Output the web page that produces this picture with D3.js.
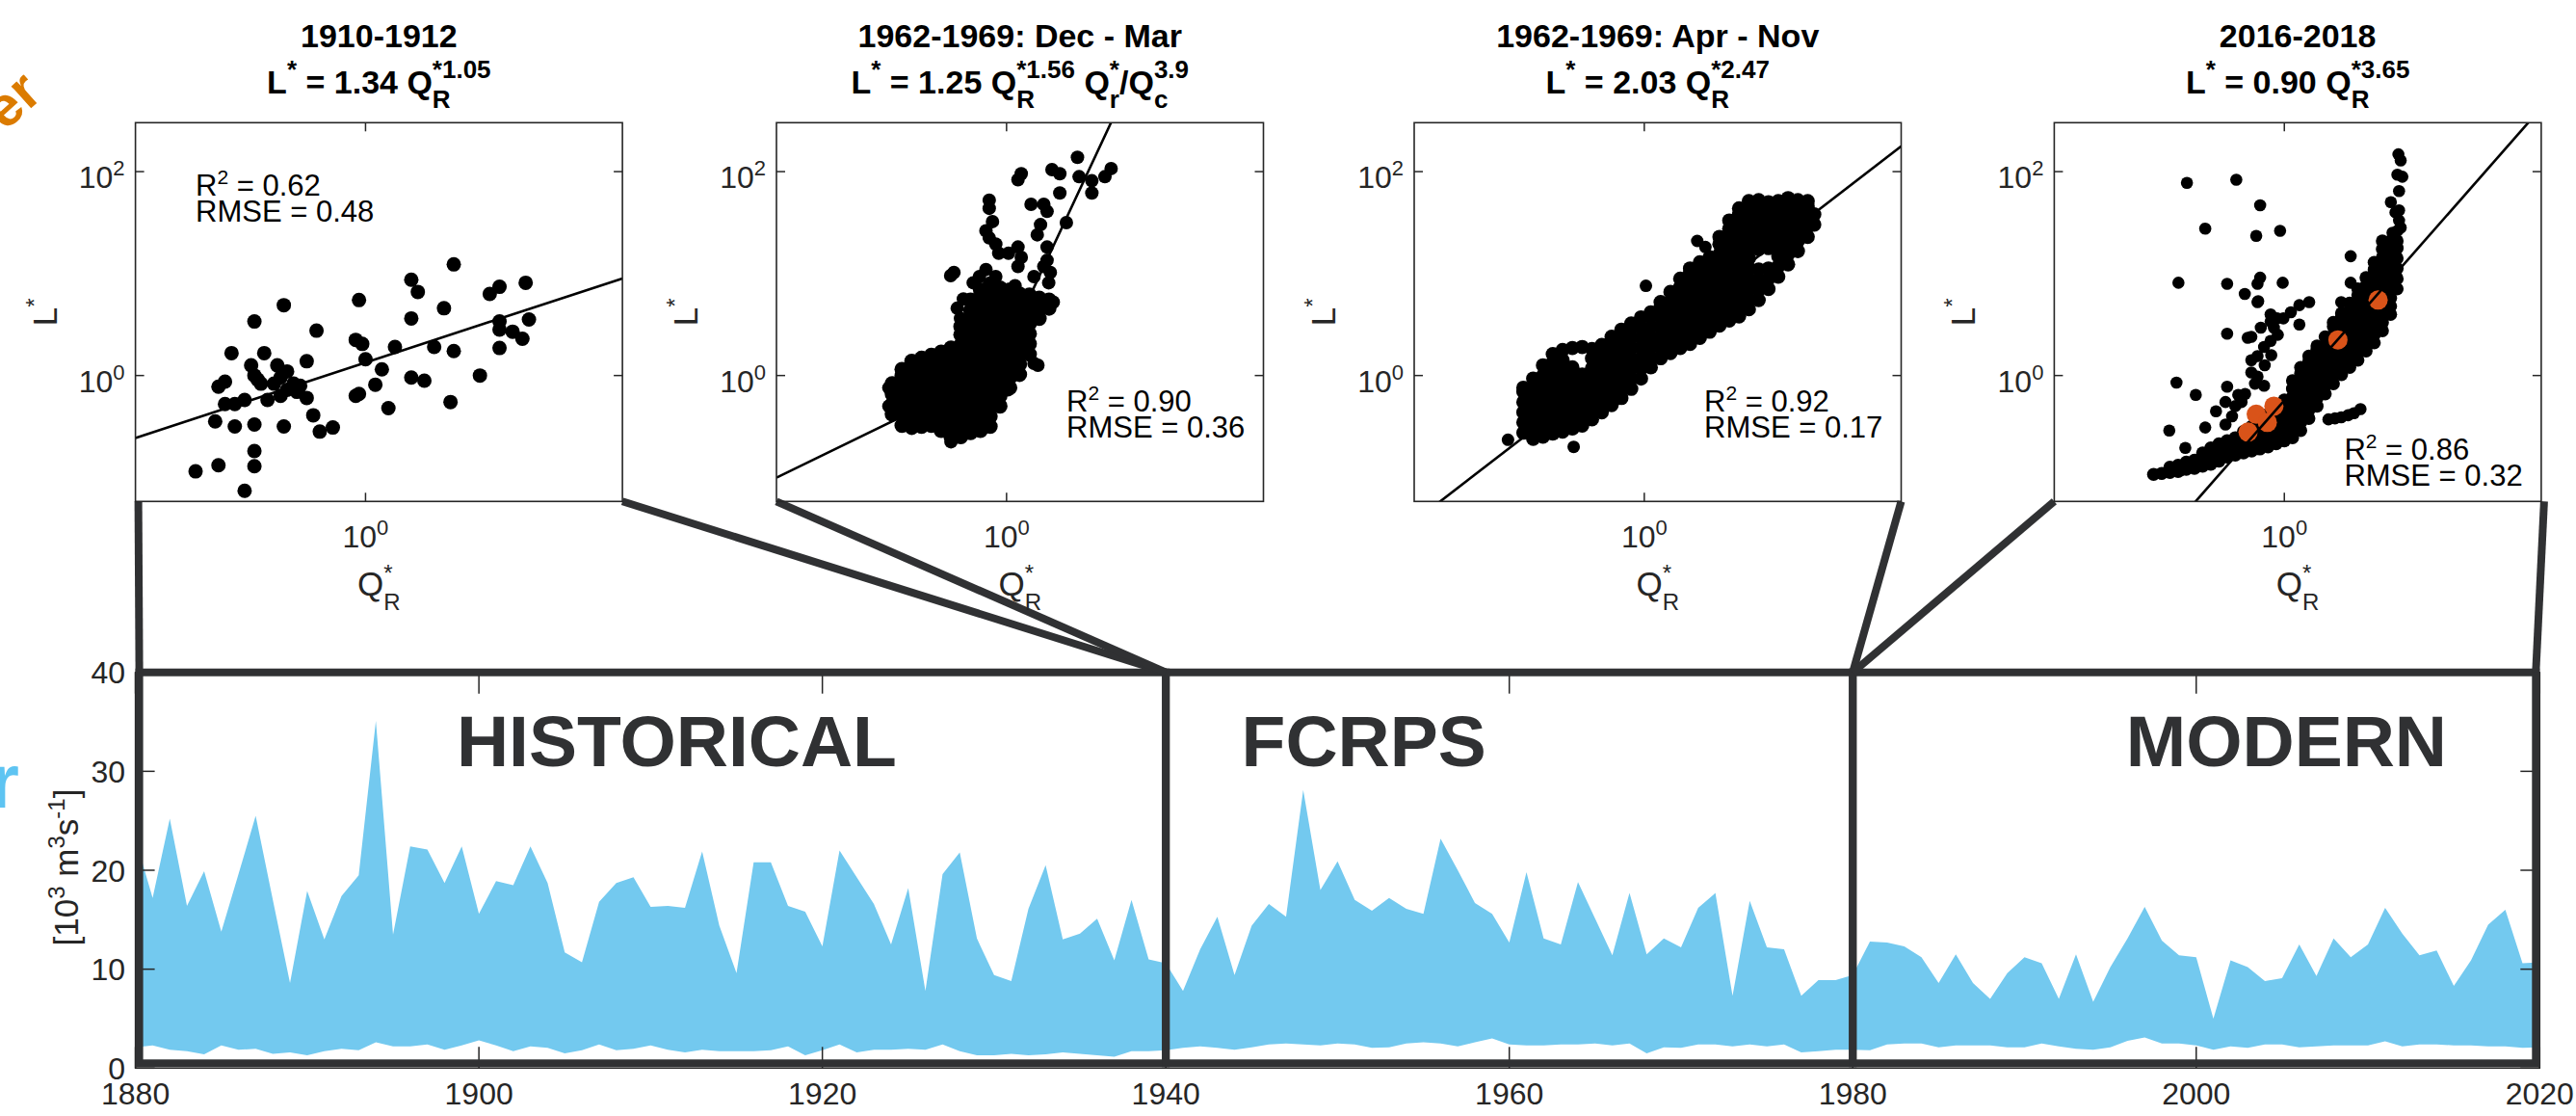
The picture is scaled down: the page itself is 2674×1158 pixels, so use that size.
<!DOCTYPE html>
<html>
<head>
<meta charset="utf-8">
<script src="https://cdn.jsdelivr.net/npm/d3@7"></script>
<style>
body { margin: 0; background: #fff; }
svg { display: block; font-family: "Liberation Sans", Arial, Helvetica, sans-serif; }
</style>
</head>
<body>
<script>
// ---------- bottom chart: river flow envelope, 10^3 m3/s ----------
var years = d3.range(1880, 2021);
var flowMax = [
  23.2, 17.2, 25.2, 16.4, 19.9, 13.8, 19.6, 25.5, 17.0, 8.6,    // 1880s
  17.9, 13.0, 17.4, 19.5, 35.1, 13.5, 22.4, 22.1, 18.7, 22.4,   // 1890s
  15.6, 18.9, 18.5, 22.4, 18.7, 11.7, 10.7, 16.8, 18.7, 19.3,   // 1900s
  16.3, 16.4, 16.2, 21.9, 14.4, 9.6, 20.8, 20.8, 16.4, 15.8,    // 1910s
  12.3, 22.0, 19.3, 16.6, 12.5, 18.2, 7.8, 19.6, 21.8, 13.1,    // 1920s
  9.4, 8.8, 16.1, 20.5, 13.0, 13.6, 15.1, 10.9, 17.0, 11.0,     // 1930s
  10.6, 7.8, 12.0, 15.3, 9.4, 14.4, 16.6, 15.3, 28.1, 18.0,     // 1940s
  20.9, 17.0, 15.9, 17.2, 16.1, 15.6, 23.2, 20.0, 16.7, 15.6,   // 1950s
  12.7, 19.8, 13.1, 12.5, 18.8, 15.1, 11.4, 17.7, 11.5, 13.1,   // 1960s
  12.2, 16.2, 17.7, 7.3, 16.9, 12.2, 12.0, 7.3, 8.9, 8.9,       // 1970s
  9.4, 12.8, 12.7, 12.3, 11.2, 8.6, 11.5, 8.6, 7.0, 9.6,        // 1980s
  11.2, 10.6, 7.0, 11.5, 6.7, 10.2, 13.1, 16.3, 12.9, 11.4,     // 1990s
  11.2, 5.0, 10.9, 10.2, 8.8, 9.1, 12.5, 9.3, 13.1, 11.2,       // 2000s
  12.5, 16.2, 13.6, 11.4, 11.9, 8.3, 10.9, 14.5, 16.0, 10.6,    // 2010s
  10.7
];
var flowMin = [
  2.1, 2.3, 1.85, 1.7, 1.4, 2.3, 1.85, 1.95, 1.45, 1.6,
  1.3, 1.7, 1.95, 1.8, 2.6, 2.2, 2.2, 2.4, 1.85, 2.3,
  2.8, 2.3, 1.7, 2.2, 2.05, 1.5, 1.8, 2.4, 1.8, 1.95,
  2.3, 1.85, 1.6, 1.85, 1.7, 1.7, 1.7, 1.8, 2.2, 1.3,
  1.8, 2.4, 1.6, 1.85, 1.85, 1.95, 1.85, 2.4, 1.7, 1.3,
  1.3, 1.45, 1.3, 1.4, 1.6, 1.45, 1.3, 1.15, 1.7, 1.7,
  1.8, 2.05, 2.2, 2.05, 1.85, 2.1, 2.4, 2.5, 2.4, 2.3,
  2.5, 2.4, 2.05, 2.1, 2.5, 2.6, 2.5, 2.2, 2.6, 3.0,
  2.4, 2.3, 2.3, 2.4, 2.4, 2.5, 2.3, 2.5, 1.5, 2.1,
  2.05, 2.4, 2.4, 2.2, 2.4, 2.2, 2.4, 1.6, 1.7, 1.85,
  1.85, 1.8, 2.4, 2.5, 2.5, 2.1, 2.3, 2.3, 2.3, 2.1,
  2.1, 2.5, 2.2, 1.95, 1.85, 2.1, 2.75, 3.1, 2.5, 2.5,
  2.3, 1.85, 2.2, 2.05, 2.4, 2.4, 2.1, 2.2, 2.3, 2.3,
  2.3, 2.7, 2.2, 2.4, 2.4, 2.3, 2.3, 2.2, 2.2, 2.05,
  2.1
];
var yearTicks = [1880, 1900, 1920, 1940, 1960, 1980, 2000, 2020];
var flowTicks = [0, 10, 20, 30, 40];
var eras = [
  { start: 1880, end: 1940, name: 'HISTORICAL', labelYear: 1898.7 },
  { start: 1940, end: 1980, name: 'FCRPS', labelYear: 1944.4 },
  { start: 1980, end: 2020, name: 'MODERN', labelYear: 1995.9 }
];

// ---------- scatter panels (log10 Q*, log10 L*) ----------
var titles = ['1910-1912', '1962-1969: Dec - Mar', '1962-1969: Apr - Nov', '2016-2018'];
var stats = [['0.62', '0.48'], ['0.90', '0.36'], ['0.92', '0.17'], ['0.86', '0.32']];

var p1Points = [
  [-0.52,-0.94],[-0.45,-0.88],[-0.37,-1.13],[-0.34,-0.89],[-0.34,-0.74],[-0.46,-0.45],[-0.40,-0.50],
  [-0.34,-0.48],[-0.25,-0.50],[-0.16,-0.39],[-0.14,-0.55],[-0.10,-0.51],[-0.43,-0.28],[-0.40,-0.28],
  [-0.37,-0.24],[-0.45,-0.11],[-0.43,-0.06],[-0.41,0.22],[-0.34,0.53],[-0.25,0.69],[-0.15,0.44],
  [-0.31,0.22],[-0.35,0.10],[-0.34,0.00],[-0.32,-0.08],[-0.30,-0.24],[-0.27,0.10],[-0.26,-0.02],
  [-0.24,0.04],[-0.22,-0.08],[-0.21,-0.16],[-0.18,-0.22],[-0.18,0.14],[-0.26,-0.20],[-0.28,-0.08],
  [-0.24,-0.14],[-0.02,0.74],[-0.03,0.35],[-0.01,0.31],[0.00,0.16],[0.05,0.06],[0.03,-0.09],
  [-0.03,-0.20],[-0.02,-0.18],[0.07,-0.32],[0.09,0.28],[0.14,0.94],[0.16,0.82],[0.14,0.56],
  [0.14,-0.02],[0.18,-0.05],[0.21,0.28],[0.24,0.66],[0.27,1.09],[0.27,0.24],[0.26,-0.26],
  [0.35,0.00],[0.38,0.80],[0.41,0.87],[0.49,0.91],[0.41,0.53],[0.41,0.45],[0.45,0.43],
  [0.48,0.36],[0.50,0.55],[0.41,0.27],[-0.20,-0.10],[-0.33,-0.04]
];

// dense clouds: [log Q*, log L* values seen in that column ...]
var p2Cloud = [
  [-0.35, -0.38, -0.28, -0.18, -0.08],
  [-0.32, -0.49, -0.39, -0.29, -0.19, -0.09, 0.00, 0.06],
  [-0.29, -0.51, -0.41, -0.31, -0.21, -0.11, -0.01, 0.09, 0.14],
  [-0.26, -0.50, -0.40, -0.30, -0.20, -0.10, 0.00, 0.10, 0.17],
  [-0.23, -0.49, -0.39, -0.29, -0.19, -0.09, 0.01, 0.11, 0.20],
  [-0.20, -0.54, -0.44, -0.34, -0.24, -0.14, -0.04, 0.06, 0.16, 0.23],
  [-0.17, -0.60, -0.50, -0.40, -0.30, -0.20, -0.10, 0.00, 0.10, 0.20, 0.27],
  [-0.14, -0.60, -0.50, -0.40, -0.30, -0.20, -0.10, 0.00, 0.10, 0.20, 0.30, 0.40, 0.48],
  [-0.11, -0.56, -0.46, -0.36, -0.26, -0.16, -0.06, 0.04, 0.14, 0.24, 0.34, 0.44, 0.54, 0.64, 0.74],
  [-0.08, -0.54, -0.44, -0.34, -0.24, -0.14, -0.04, 0.06, 0.16, 0.26, 0.36, 0.46, 0.56, 0.66, 0.76, 0.84],
  [-0.05, -0.50, -0.40, -0.30, -0.20, -0.10, 0.00, 0.10, 0.20, 0.30, 0.40, 0.50, 0.60, 0.70, 0.80, 0.90],
  [-0.02, -0.30, -0.20, -0.10, 0.00, 0.10, 0.20, 0.30, 0.40, 0.50, 0.60, 0.70, 0.80, 0.86],
  [0.01, -0.12, -0.02, 0.08, 0.18, 0.28, 0.38, 0.48, 0.58, 0.68, 0.78, 0.84],
  [0.04, 0.01, 0.11, 0.21, 0.31, 0.41, 0.51, 0.61, 0.71, 0.80],
  [0.07, 0.21, 0.31, 0.41, 0.51, 0.61, 0.71, 0.79],
  [0.10, 0.56, 0.66, 0.76],
  [0.13, 0.66, 0.74]
];
var p2Points = [
  [0.217,2.14],[0.045,1.98],[0.035,1.92],[0.139,2.02],[0.163,1.98],[0.222,1.95],[0.261,1.91],
  [0.301,1.95],[0.320,2.03],[0.163,1.79],[0.261,1.79],[-0.053,1.72],[-0.053,1.64],[0.075,1.68],
  [0.114,1.68],[0.124,1.61],[-0.043,1.51],[-0.063,1.42],[-0.053,1.35],[-0.033,1.29],[-0.024,1.20],
  [0.104,1.48],[0.094,1.38],[0.183,1.50],[0.006,1.20],[0.035,1.26],[0.045,1.16],[0.035,1.07],
  [0.124,1.26],[0.124,1.13],[0.114,1.07],[0.134,1.01],[0.084,0.97],[-0.161,1.01],[-0.171,0.98],
  [-0.063,1.04],[-0.083,0.97],[-0.033,0.97],[0.129,0.91],[-0.102,0.91],[-0.132,0.75],[-0.151,0.66],
  [-0.141,0.56],[-0.014,0.85],[0.026,0.88],[0.143,0.72],[0.084,0.12],[0.004,-0.14],[0.096,0.10],
  [-0.36,-0.30],[-0.36,-0.12],[-0.17,-0.65]
];

var p3Cloud = [
  [-0.37, -0.56, -0.46, -0.36, -0.26, -0.16, -0.12],
  [-0.34, -0.62, -0.52, -0.42, -0.32, -0.22, -0.12, -0.03],
  [-0.31, -0.60, -0.50, -0.40, -0.30, -0.20, -0.10, 0.00, 0.10],
  [-0.28, -0.57, -0.47, -0.37, -0.27, -0.17, -0.07, 0.03, 0.13, 0.21],
  [-0.25, -0.55, -0.45, -0.35, -0.25, -0.15, -0.05, 0.05, 0.15, 0.25],
  [-0.22, -0.52, -0.42, -0.32, -0.22, -0.12, -0.02, 0.08, 0.27],
  [-0.19, -0.49, -0.39, -0.29, -0.19, -0.09, 0.01, 0.28],
  [-0.16, -0.43, -0.33, -0.23, -0.13, -0.03, 0.07, 0.17, 0.26],
  [-0.13, -0.36, -0.26, -0.16, -0.06, 0.04, 0.14, 0.24, 0.30],
  [-0.10, -0.29, -0.19, -0.09, 0.01, 0.11, 0.21, 0.31, 0.38],
  [-0.07, -0.22, -0.12, -0.02, 0.08, 0.18, 0.28, 0.38, 0.45],
  [-0.04, -0.13, -0.03, 0.07, 0.17, 0.27, 0.37, 0.47, 0.51],
  [-0.01, -0.03, 0.07, 0.17, 0.27, 0.37, 0.47, 0.57],
  [0.02, 0.08, 0.18, 0.28, 0.38, 0.48, 0.58, 0.62],
  [0.05, 0.17, 0.27, 0.37, 0.47, 0.57, 0.67, 0.72],
  [0.08, 0.22, 0.32, 0.42, 0.52, 0.62, 0.72, 0.82],
  [0.11, 0.27, 0.37, 0.47, 0.57, 0.67, 0.77, 0.87, 0.95],
  [0.14, 0.31, 0.41, 0.51, 0.61, 0.71, 0.81, 0.91, 1.01, 1.05],
  [0.17, 0.37, 0.47, 0.57, 0.67, 0.77, 0.87, 0.97, 1.07, 1.11],
  [0.20, 0.43, 0.53, 0.63, 0.73, 0.83, 0.93, 1.03, 1.13, 1.16],
  [0.23, 0.49, 0.59, 0.69, 0.79, 0.89, 0.99, 1.09, 1.19, 1.29, 1.36],
  [0.26, 0.54, 0.64, 0.74, 0.84, 0.94, 1.04, 1.14, 1.24, 1.34, 1.44, 1.52],
  [0.29, 0.58, 0.68, 0.78, 0.88, 0.98, 1.08, 1.18, 1.28, 1.38, 1.48, 1.58, 1.64],
  [0.32, 0.65, 0.75, 0.85, 0.95, 1.05, 1.15, 1.25, 1.35, 1.45, 1.55, 1.65, 1.71],
  [0.35, 0.74, 0.84, 0.94, 1.04, 1.24, 1.34, 1.44, 1.54, 1.64, 1.72],
  [0.38, 0.85, 0.95, 1.05, 1.25, 1.35, 1.45, 1.55, 1.65, 1.70],
  [0.41, 0.97, 1.07, 1.17, 1.27, 1.37, 1.47, 1.57, 1.67, 1.71],
  [0.44, 1.09, 1.19, 1.29, 1.39, 1.49, 1.59, 1.69, 1.74],
  [0.47, 1.22, 1.32, 1.42, 1.52, 1.62, 1.72],
  [0.50, 1.36, 1.46, 1.56, 1.66, 1.71],
  [0.52, 1.48, 1.58]
];
var p3Points = [[0.005,0.88],[-0.216,-0.70],[-0.417,-0.63],[0.162,1.32],[0.187,1.26]];

var p4Cloud = [
  [-0.400, -0.97],
  [-0.375, -0.96],
  [-0.350, -0.95, -0.90],
  [-0.325, -0.94, -0.88],
  [-0.300, -0.92, -0.85],
  [-0.275, -0.91, -0.83],
  [-0.250, -0.89, -0.81, -0.76],
  [-0.225, -0.87, -0.79, -0.71],
  [-0.200, -0.84, -0.76, -0.67],
  [-0.175, -0.80, -0.72, -0.64],
  [-0.150, -0.78, -0.70, -0.61],
  [-0.125, -0.76, -0.68, -0.60, -0.55],
  [-0.100, -0.74, -0.66, -0.58, -0.50],
  [-0.075, -0.72, -0.64, -0.56, -0.48, -0.43],
  [-0.050, -0.70, -0.62, -0.54, -0.46, -0.38],
  [-0.025, -0.67, -0.59, -0.51, -0.43, -0.35, -0.31],
  [0.000, -0.64, -0.56, -0.48, -0.40, -0.32, -0.24],
  [0.025, -0.61, -0.53, -0.45, -0.37, -0.29, -0.21, -0.13, -0.05],
  [0.050, -0.54, -0.46, -0.38, -0.30, -0.22, -0.14, -0.06, 0.02, 0.08],
  [0.075, -0.42, -0.34, -0.26, -0.18, -0.10, -0.02, 0.06, 0.14, 0.19],
  [0.100, -0.30, -0.22, -0.14, -0.06, 0.02, 0.10, 0.18, 0.26, 0.29],
  [0.125, -0.18, -0.10, -0.02, 0.06, 0.14, 0.22, 0.30, 0.38],
  [0.150, -0.08, 0.00, 0.08, 0.16, 0.24, 0.32, 0.40, 0.48, 0.52],
  [0.175, 0.01, 0.09, 0.17, 0.25, 0.33, 0.41, 0.49, 0.57, 0.61],
  [0.200, 0.08, 0.16, 0.24, 0.32, 0.40, 0.48, 0.56, 0.64, 0.71],
  [0.225, 0.15, 0.23, 0.31, 0.39, 0.47, 0.55, 0.63, 0.71, 0.79, 0.85],
  [0.250, 0.24, 0.32, 0.40, 0.48, 0.56, 0.64, 0.72, 0.80, 0.88, 0.96],
  [0.275, 0.32, 0.40, 0.48, 0.56, 0.64, 0.72, 0.80, 0.88, 0.96, 1.04, 1.11],
  [0.300, 0.44, 0.52, 0.60, 0.68, 0.76, 0.84, 0.92, 1.00, 1.08, 1.16, 1.24, 1.32],
  [0.325, 0.60, 0.68, 0.76, 0.84, 0.92, 1.00, 1.08, 1.16, 1.24, 1.32],
  [0.345, 0.85, 0.95, 1.05, 1.15, 1.25, 1.32]
];
var p4Points = [
  [0.135,-0.43],[0.155,-0.42],[0.174,-0.41],[0.195,-0.39],[0.213,-0.37],[0.233,-0.33],
  [-0.101,0.03],[-0.082,0.19],[-0.062,0.28],[-0.042,0.34],[-0.032,0.47],[-0.022,0.56],[-0.003,0.56],
  [-0.101,0.38],[-0.072,0.47],[-0.101,0.15],[-0.082,-0.01],[-0.062,-0.10],[-0.131,-0.26],[-0.180,-0.26],
  [-0.209,-0.35],[-0.180,-0.48],[-0.042,0.60],[-0.042,0.53],[0.046,0.69],[0.076,0.72],[0.046,0.50],
  [0.174,0.72],[-0.09,-0.08],[-0.12,-0.18],[-0.15,-0.30],[-0.16,-0.40],[-0.06,0.10],[-0.04,0.20],
  [-0.02,0.40],[0.02,0.62],[-0.112,0.37],[-0.08,0.73],
  [0.349,2.17],[0.356,2.11],[0.346,1.97],[0.361,1.95],[0.351,1.81],[0.326,1.70],[0.351,1.62],
  [0.346,1.42],[0.356,1.45],[0.351,1.52],[0.331,1.40],[0.34,1.60],
  [-0.298,1.89],[-0.147,1.92],[-0.074,1.67],[-0.242,1.44],[-0.086,1.37],[-0.013,1.42],[-0.324,0.91],
  [-0.175,0.90],[-0.121,0.80],[-0.082,0.72],[-0.074,0.96],[-0.082,0.90],[-0.005,0.91],[0.203,1.17],
  [0.203,0.91],[-0.175,0.41],[-0.330,-0.07],[-0.271,-0.19],[-0.175,-0.11],[-0.141,-0.19],
  [-0.352,-0.54],[-0.303,-0.71],[-0.242,-0.51],[-0.376,-0.96],[-0.317,-0.93]
];
var p4Highlight = [[0.287,0.74],[0.164,0.35],[-0.032,-0.30],[-0.086,-0.38],[-0.052,-0.46],[-0.111,-0.555]];

// fitted lines as drawn: log L* = log10(a) + b log Q*  (panel 2 bends at kink)
var fits = [
  { a: 1.34, b: 1.05 },
  { a: 1.25, b: 1.56, kink: -0.036, b2: 6.86 },
  { a: 2.03, b: 2.47 },
  { a: 0.57, b: 3.65 }
];
var shownCoef = [1.34, 1.25, 2.03, 0.90];

// ---------- layout ----------
var W = 2674, H = 1158;
var INK = '#262626', FRAME = '#303133', BLUE = '#73c9ef', ORANGE = '#d95319';
var panelX = [140.6, 806, 1468, 2132.4], PW = 505.5, PT = 127.3, PB = 520.3;
var dotR = [7.5, 7, 6.5, 6.3];      // single markers
var cloudR = [0, 7.8, 7.4, 6.8];    // markers inside the dense clouds

var svg = d3.select('body').append('svg').attr('width', W).attr('height', H);

// text with super/subscripts, laid out piece by piece
function mathText(parent, x, y, parts, o) {
  var g = parent.append('g');
  var inner = g.append('g');
  var cx = 0;
  function piece(str, px, py, size) {
    return inner.append('text').attr('x', px).attr('y', py)
      .attr('font-size', size).attr('font-weight', o.weight || 'normal')
      .attr('fill', o.fill || '#000').attr('xml:space', 'preserve')
      .style('white-space', 'pre').text(str);
  }
  parts.forEach(function (p) {
    if (p.t) cx += piece(p.t, cx, 0, o.size).node().getComputedTextLength();
    var w = 0;
    if (p.sup) w = Math.max(w, piece(p.sup, cx, -o.up, o.small).node().getComputedTextLength());
    if (p.sub) w = Math.max(w, piece(p.sub, cx, o.down, o.small).node().getComputedTextLength());
    cx += w;
  });
  var dx = o.anchor === 'middle' ? -cx / 2 : (o.anchor === 'end' ? -cx : 0);
  inner.attr('transform', 'translate(' + dx + ',0)');
  g.attr('transform', 'translate(' + x + ',' + y + ')' + (o.rotate ? ' rotate(' + o.rotate + ')' : ''));
  return g;
}

// ---------- bottom chart ----------
var xs = d3.scaleLinear().domain([1880, 2020]).range([140.6, 2636.3]);
var ys = d3.scaleLinear().domain([0, 40]).range([1108.3, 697.7]);
var flow = years.map(function (yr, i) { return { year: yr, lo: flowMin[i], hi: flowMax[i] }; });

svg.append('clipPath').attr('id', 'flowclip').append('rect')
  .attr('x', xs(1880)).attr('y', ys(40)).attr('width', xs(2020) - xs(1880)).attr('height', ys(0) - ys(40));

svg.append('path').datum(flow).attr('clip-path', 'url(#flowclip)')
  .attr('fill', BLUE)
  .attr('d', d3.area().x(function (d) { return xs(d.year); })
    .y0(function (d) { return ys(d.lo); }).y1(function (d) { return ys(d.hi); }));

var axisG = svg.append('g').attr('stroke', INK).attr('stroke-width', 1.5);
axisG.append('rect').attr('x', xs(1880)).attr('y', ys(40))
  .attr('width', xs(2020) - xs(1880)).attr('height', ys(0) - ys(40)).attr('fill', 'none');
yearTicks.forEach(function (t) {
  axisG.append('line').attr('x1', xs(t)).attr('x2', xs(t)).attr('y1', ys(40)).attr('y2', ys(40) + 22);
  axisG.append('line').attr('x1', xs(t)).attr('x2', xs(t)).attr('y1', ys(0)).attr('y2', ys(0) - 22);
});
flowTicks.forEach(function (t) {
  axisG.append('line').attr('x1', xs(1880)).attr('x2', xs(1880) + 20).attr('y1', ys(t)).attr('y2', ys(t));
  axisG.append('line').attr('x1', xs(2020)).attr('x2', xs(2020) - 20).attr('y1', ys(t)).attr('y2', ys(t));
});

svg.append('g').selectAll('text').data(yearTicks).enter().append('text')
  .attr('x', function (d) { return xs(d); }).attr('y', 1146)
  .attr('text-anchor', 'middle').attr('font-size', 32).attr('fill', INK)
  .text(function (d) { return d; });
svg.append('g').selectAll('text').data(flowTicks).enter().append('text')
  .attr('x', 130).attr('y', function (d) { return ys(d) + 11.5; })
  .attr('text-anchor', 'end').attr('font-size', 32).attr('fill', INK)
  .text(function (d) { return d; });

mathText(svg, 81, 900, [{ t: '[10', sup: '3' }, { t: ' m', sup: '3' }, { t: 's', sup: '-1' }, { t: ']' }],
  { size: 35, small: 24, up: 14, anchor: 'middle', rotate: -90, fill: INK });

// era boxes
var boxG = svg.append('g').attr('fill', 'none').attr('stroke', FRAME).attr('stroke-width', 8);
eras.forEach(function (e, i) {
  var x0 = xs(e.start) + (i === 0 ? 4 : 0);
  var x1 = xs(e.end) - (i === eras.length - 1 ? 4 : 0);
  boxG.append('rect').attr('x', x0).attr('y', ys(40)).attr('width', x1 - x0).attr('height', ys(0) - 5 - ys(40));
});
svg.append('g').selectAll('text').data(eras).enter().append('text')
  .attr('x', function (d) { return xs(d.labelYear); }).attr('y', 795)
  .attr('font-size', 75).attr('font-weight', 'bold').attr('fill', FRAME)
  .text(function (d) { return d.name; });

// zoom lines from panels down to the eras
var links = [
  [panelX[0] + 3, 1880, 4], [panelX[0] + PW, 1940, 0], [panelX[1], 1940, 0],
  [panelX[2] + PW, 1980, 0], [panelX[3], 1980, 0], [panelX[3] + PW + 3, 2020, -4]
];
links.forEach(function (l) {
  boxG.append('line').attr('x1', l[0]).attr('y1', PB).attr('x2', xs(l[1]) + l[2]).attr('y2', ys(40));
});

// ---------- scatter panels ----------
var qDom = [Math.pow(10, -0.704), Math.pow(10, 0.786)];
var lDom = [Math.pow(10, -1.235), Math.pow(10, 2.48)];
var clouds = [null, p2Cloud, p3Cloud, p4Cloud];
var singles = [p1Points, p2Points, p3Points, p4Points];

panelX.forEach(function (left, k) {
  var g = svg.append('g');
  var xq = d3.scaleLog().domain(qDom).range([left, left + PW]);
  var yl = d3.scaleLog().domain(lDom).range([PB, PT]);
  var cxm = left + PW / 2;

  var pts = singles[k].map(function (d) { return [d[0], d[1], dotR[k]]; });
  if (clouds[k]) clouds[k].forEach(function (col) {
    col.slice(1).forEach(function (v) { pts.push([col[0], v, cloudR[k]]); });
  });

  var cid = 'pclip' + k;
  g.append('clipPath').attr('id', cid).append('rect')
    .attr('x', left).attr('y', PT).attr('width', PW).attr('height', PB - PT);
  var plot = g.append('g').attr('clip-path', 'url(#' + cid + ')');

  plot.selectAll('circle.pt').data(pts).enter().append('circle').attr('class', 'pt')
    .attr('cx', function (d) { return xq(Math.pow(10, d[0])); })
    .attr('cy', function (d) { return yl(Math.pow(10, d[1])); })
    .attr('r', function (d) { return d[2]; }).attr('fill', '#000');

  if (k === 3) {
    plot.selectAll('circle.hl').data(p4Highlight).enter().append('circle').attr('class', 'hl')
      .attr('cx', function (d) { return xq(Math.pow(10, d[0])); })
      .attr('cy', function (d) { return yl(Math.pow(10, d[1])); })
      .attr('r', 10).attr('fill', ORANGE);
  }

  var f = fits[k];
  var fitLog = function (x) {
    var v = Math.log10(f.a) + f.b * Math.min(x, f.kink === undefined ? x : f.kink);
    if (f.kink !== undefined && x > f.kink) v += f.b2 * (x - f.kink);
    return v;
  };
  var xsamp = [-0.704, 0.786];
  if (f.kink !== undefined) xsamp = [-0.704, f.kink, 0.786];
  plot.append('path').datum(xsamp).attr('fill', 'none').attr('stroke', '#000').attr('stroke-width', 2.6)
    .attr('d', d3.line().x(function (x) { return xq(Math.pow(10, x)); })
      .y(function (x) { return yl(Math.pow(10, fitLog(x))); }));

  // frame and ticks
  g.append('rect').attr('x', left).attr('y', PT).attr('width', PW).attr('height', PB - PT)
    .attr('fill', 'none').attr('stroke', INK).attr('stroke-width', 1.6);
  var tk = g.append('g').attr('stroke', INK).attr('stroke-width', 1.5);
  tk.append('line').attr('x1', xq(1)).attr('x2', xq(1)).attr('y1', PB).attr('y2', PB - 9);
  tk.append('line').attr('x1', xq(1)).attr('x2', xq(1)).attr('y1', PT).attr('y2', PT + 9);
  [1, 100].forEach(function (v) {
    tk.append('line').attr('x1', left).attr('x2', left + 9).attr('y1', yl(v)).attr('y2', yl(v));
    tk.append('line').attr('x1', left + PW).attr('x2', left + PW - 9).attr('y1', yl(v)).attr('y2', yl(v));
    mathText(g, left - 11, yl(v) + 17, [{ t: '10', sup: String(Math.round(Math.log10(v))) }],
      { size: 32, small: 22, up: 13, anchor: 'end', fill: INK });
  });
  mathText(g, xq(1), 568, [{ t: '10', sup: '0' }], { size: 32, small: 22, up: 13, anchor: 'middle', fill: INK });

  // axis labels
  mathText(g, cxm, 618, [{ t: 'Q', sub: 'R', sup: '*' }],
    { size: 35, small: 24, up: 15, down: 15, anchor: 'middle', fill: INK });
  mathText(g, left - 82, (PT + PB) / 2, [{ t: 'L', sup: '*' }],
    { size: 35, small: 24, up: 15, anchor: 'middle', rotate: -90, fill: INK });

  // titles
  g.append('text').attr('x', cxm).attr('y', 49).attr('text-anchor', 'middle')
    .attr('font-size', 34).attr('font-weight', 'bold').text(titles[k]);
  var eq = [{ t: 'L', sup: '*' }, { t: ' = ' + shownCoef[k].toFixed(2) + ' Q', sub: 'R', sup: '*' + f.b.toFixed(2) }];
  if (k === 1) eq.push({ t: ' Q', sub: 'r', sup: '*' }, { t: '/Q', sub: 'c', sup: '3.9' });
  mathText(g, cxm, 97, eq, { size: 34, small: 26, up: 16, down: 15, anchor: 'middle', weight: 'bold' });

  // goodness of fit
  var sx = k === 0 ? left + 62.5 : left + 301;
  var sy = [203, 427, 427, 477][k];
  mathText(g, sx, sy, [{ t: 'R', sup: '2' }, { t: ' = ' + stats[k][0] }], { size: 31, small: 21, up: 12 });
  g.append('text').attr('x', sx).attr('y', sy + 27).attr('font-size', 31).text('RMSE = ' + stats[k][1]);
});

// cropped fragments of neighbouring labels at the left edge
svg.append('text').attr('transform', 'translate(46,100) rotate(-42)').attr('text-anchor', 'end')
  .attr('font-size', 58).attr('font-weight', 'bold').attr('fill', '#db7b00').text('er');
svg.append('text').attr('x', 20).attr('y', 838).attr('text-anchor', 'end')
  .attr('font-size', 80).attr('font-weight', 'bold').attr('fill', '#5ec4f2').text('r');
</script>
</body>
</html>
